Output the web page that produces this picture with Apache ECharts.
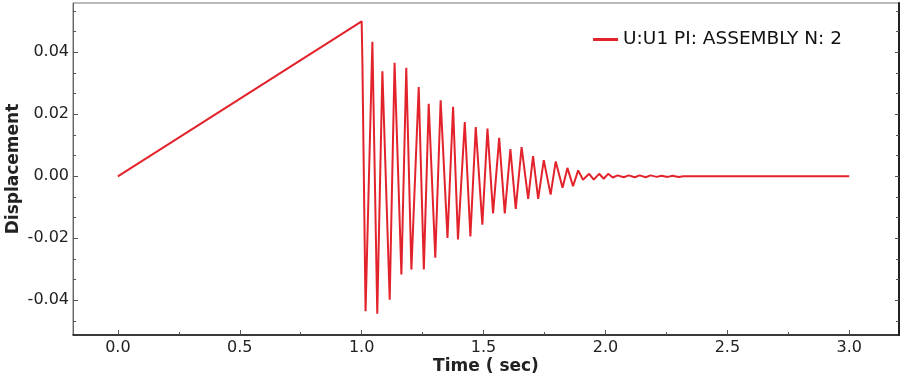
<!DOCTYPE html>
<html>
<head>
<meta charset="utf-8">
<script src="https://cdn.jsdelivr.net/npm/echarts@6/dist/echarts.min.js"></script>
<style>
  html, body { margin: 0; padding: 0; background: #fff; }
  #chart { width: 904px; height: 377px; }
</style>
</head>
<body>
<div id="chart"></div>
<script>
// time (sec) and displacement (ramp, then damped vibration)
const times = [
    0, 1.0, 1.003, 1.016, 1.044, 1.064, 1.085, 1.115, 1.135, 1.163,
    1.183, 1.204, 1.234, 1.255, 1.275, 1.302, 1.324, 1.352, 1.375, 1.395,
    1.423, 1.446, 1.468, 1.495, 1.516, 1.539, 1.564, 1.587, 1.610, 1.632,
    1.656, 1.683, 1.703, 1.724, 1.747, 1.775, 1.796, 1.824, 1.844, 1.867,
    1.888, 1.908, 1.933, 1.952, 1.974, 1.993, 2.011, 2.030, 2.050, 2.075,
    2.095, 2.120, 2.140, 2.165, 2.185, 2.210, 2.230, 2.255, 2.275, 2.300,
    2.320, 3.0
];
const displacement = [
    0, 0.0500, 0.0370, -0.0435, 0.0434, -0.0443, 0.0339, -0.0398, 0.0366, -0.0317,
    0.0350, -0.0301, 0.0288, -0.0301, 0.0234, -0.0263, 0.0245, -0.0199, 0.0224, -0.0204,
    0.0175, -0.0194, 0.0159, -0.0156, 0.0154, -0.0120, 0.0124, -0.0120, 0.0088, -0.0105,
    0.0094, -0.0073, 0.0065, -0.0073, 0.0052, -0.0059, 0.0048, -0.0037, 0.0027, -0.0032,
    0.0019, -0.0011, 0.0008, -0.0011, 0.0008, -0.0008, 0.0008, -0.0004, 0.0003, -0.0003,
    0.0003, -0.0003, 0.0003, -0.0003, 0.0003, -0.0002, 0.0002, -0.0002, 0.0002, -0.0002,
    0, 0
];

const xMajorTicks = [0, 0.5, 1.0, 1.5, 2.0, 2.5, 3.0];
const xMinorTicks = [0.25, 0.75, 1.25, 1.75, 2.25, 2.75];
const yMajorTicks = [-0.04, -0.02, 0, 0.02, 0.04];
const yMinorTicks = [-0.0467, -0.0333, -0.0267, -0.0133, -0.0067, 0.0067, 0.0133, 0.0267, 0.0333, 0.0467, 0.0533];

const seriesName = 'U:U1 PI: ASSEMBLY N: 2';

const font = 'DejaVu Sans';
const xMin = -0.184, xMax = 3.204;
const yMin = -0.0512, yMax = 0.0559;

const chart = echarts.init(document.getElementById('chart'));

function yAxisDef(pos, ticks, len, showLine, showLabel) {
    return {
        type: 'value',
        position: pos,
        min: yMin,
        max: yMax,
        name: (pos === 'left' && showLabel) ? 'Displacement' : '',
        nameLocation: 'middle',
        nameGap: 51,
        nameMoveOverlap: false,
        nameTextStyle: { fontFamily: font, fontSize: 17, fontWeight: 'bold', color: '#222' },
        splitLine: { show: false },
        axisLine: {
            show: showLine,
            onZero: false,
            lineStyle: pos === 'left' ? { color: '#666', width: 1 } : { color: '#222', width: 2 }
        },
        axisTick: { show: true, inside: true, length: len, customValues: ticks, lineStyle: { color: '#555' } },
        axisLabel: {
            show: showLabel,
            customValues: yMajorTicks,
            margin: 4,
            fontFamily: font,
            fontSize: 16,
            color: '#222',
            formatter: v => v.toFixed(2)
        }
    };
}

chart.setOption({
    animation: false,
    backgroundColor: '#fff',
    grid: {
        left: 73, right: 5, top: 3, bottom: 42,
        outerBoundsMode: 'none',
        containLabel: false,
        show: true, borderColor: '#777', borderWidth: 1
    },
    legend: {
        right: 57,
        top: 25,
        itemWidth: 25,
        itemHeight: 16,
        icon: 'path://M0,0L10,0L10,1.2L0,1.2Z',
        textStyle: { fontFamily: font, fontSize: 18.5, color: '#111' },
        data: [seriesName]
    },
    xAxis: [
        {
            type: 'value',
            min: xMin,
            max: xMax,
            name: 'Time ( sec)',
            nameLocation: 'middle',
            nameGap: 23,
            nameMoveOverlap: false,
            nameTextStyle: { fontFamily: font, fontSize: 17, fontWeight: 'bold', color: '#222' },
            splitLine: { show: false },
            axisLine: { onZero: false, lineStyle: { color: '#111', width: 1.5 } },
            axisTick: { inside: true, length: 5, customValues: xMajorTicks, lineStyle: { color: '#555' } },
            axisLabel: {
                customValues: xMajorTicks,
                margin: 5,
                fontFamily: font,
                fontSize: 16,
                color: '#222',
                formatter: v => v.toFixed(1)
            }
        },
        {
            type: 'value',
            position: 'bottom',
            min: xMin,
            max: xMax,
            splitLine: { show: false },
            axisLine: { show: false, onZero: false },
            axisTick: { inside: true, length: 3, customValues: xMinorTicks, lineStyle: { color: '#555' } },
            axisLabel: { show: false }
        }
    ],
    yAxis: [
        yAxisDef('left', yMajorTicks, 5, true, true),
        yAxisDef('left', yMinorTicks, 3, false, false),
        yAxisDef('right', yMajorTicks, 4, true, false),
        yAxisDef('right', yMinorTicks, 3, false, false)
    ],
    series: [
        {
            name: seriesName,
            type: 'line',
            xAxisIndex: 0,
            yAxisIndex: 0,
            symbol: 'none',
            color: '#e3232c',
            lineStyle: { color: '#e3232c', width: 2 },
            data: times.map((t, i) => [t, displacement[i]])
        }
    ]
});
</script>
</body>
</html>
